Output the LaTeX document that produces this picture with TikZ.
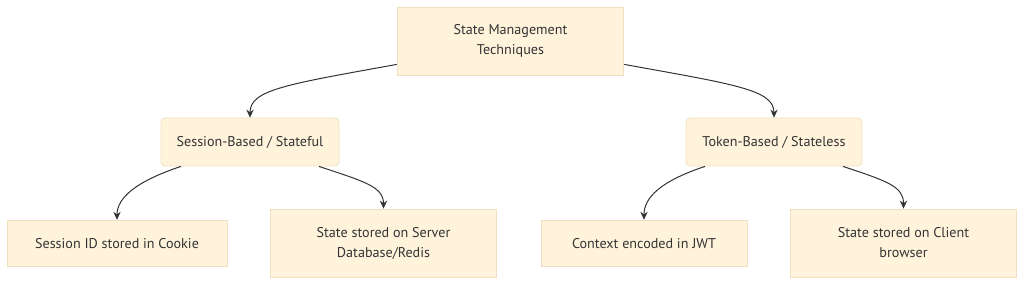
\documentclass[tikz,border=0pt]{standalone}
\usepackage{fontspec}
\setmainfont{PT Sans}
\usetikzlibrary{arrows.meta}
\definecolor{boxfill}{HTML}{FFF3DC}
\definecolor{boxline}{HTML}{F0E0C0}
\definecolor{txtgray}{HTML}{333333}
\tikzset{
  box/.style={draw=boxline,fill=boxfill,text=txtgray,font=\fontsize{10.6}{15}\selectfont,align=center,inner sep=0pt,line width=0.6pt},
  rbox/.style={box,rounded corners=3pt},
  lnk/.style={draw=txtgray,line width=0.75pt,->},
}
\begin{document}
\begin{tikzpicture}[x=0.75pt,y=-0.75pt,>={Stealth[length=6pt,width=5.5pt]}]
\useasboundingbox (0,0) rectangle (1024,285);
\node[box,minimum width=170pt,minimum height=51pt] (smt) at (510.5,41) {State Management\\Techniques};
\node[rbox,minimum width=133.5pt,minimum height=36pt] (sess) at (250,142) {Session-Based / Stateful};
\node[rbox,minimum width=132pt,minimum height=36pt] (tok) at (774,142) {Token-Based / Stateless};
\node[box,minimum width=165pt,minimum height=35pt] (sid) at (117,243.5) {Session ID stored in Cookie};
\node[box,minimum width=170pt,minimum height=51pt] (srv) at (383.5,243) {State stored on Server\\Database/Redis};
\node[box,minimum width=154.5pt,minimum height=35pt] (jwt) at (644,243.5) {Context encoded in JWT};
\node[box,minimum width=170pt,minimum height=51pt] (cli) at (903.5,243) {State stored on Client\\browser};
\draw[lnk] ([shift={(0,-11)}]smt.south west) .. controls +(-110,20) and +(0,-28) .. (sess.north);
\draw[lnk] ([shift={(0,-11)}]smt.south east) .. controls +(110,20) and +(0,-28) .. (tok.north);
\foreach \A/\B/\s in {sess/sid/-1,sess/srv/1,tok/jwt/-1,tok/cli/1}{\draw[lnk] ([shift={(\s*69,0)}]\A.south) .. controls +(\s*45,15) and +(0,-22) .. (\B.north);}
\end{tikzpicture}
\end{document}
